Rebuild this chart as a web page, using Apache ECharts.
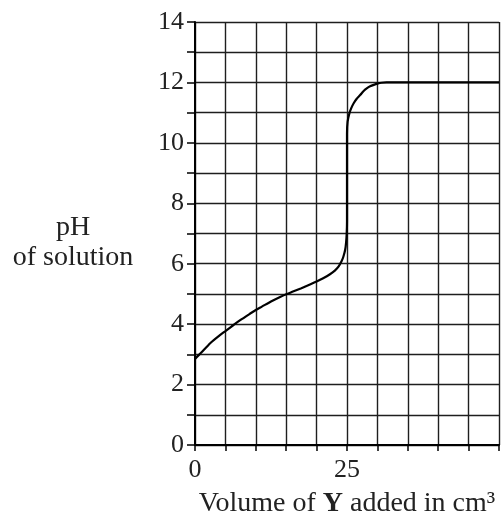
<!DOCTYPE html>
<html>
<head>
<meta charset="utf-8">
<script src="https://cdn.jsdelivr.net/npm/echarts@6/dist/echarts.min.js"></script>
<style>
  html, body { margin: 0; padding: 0; background: #fff; }
  #chart { width: 501px; height: 512px; }
</style>
</head>
<body>
<div id="chart"></div>
<script>
// Titration curve: pH of the solution against volume of Y added (cm³)
const volumeAdded = [0, 1, 2.5, 4, 5, 6, 7.5, 9, 10, 11, 12.5, 14, 15, 16, 17.5, 19, 20, 21, 22.2, 23, 23.6, 24.1, 24.4, 24.7, 24.85, 24.95, 25, 25, 25.1, 25.4, 25.7, 26.1, 26.6, 27.2, 27.7, 28.3, 28.8, 29.4, 30, 30.7, 31.5, 50];
const phValues    = [2.85, 3.05, 3.37, 3.62, 3.77, 3.92, 4.14, 4.34, 4.47, 4.58, 4.75, 4.90, 4.99, 5.07, 5.19, 5.32, 5.41, 5.51, 5.65, 5.77, 5.90, 6.08, 6.23, 6.46, 6.7, 7.0, 7.4, 10.3, 10.7, 10.98, 11.15, 11.31, 11.46, 11.59, 11.71, 11.81, 11.87, 11.92, 11.96, 11.99, 12.0, 12.0];

const xLabelTicks = [0, 25];
const yLabelTicks = [0, 2, 4, 6, 8, 10, 12, 14];

const curve = volumeAdded.map((v, i) => [v, phValues[i]]);

const serif = '"Liberation Serif", "DejaVu Serif", serif';
const gridLine = { show: true, lineStyle: { color: '#1e1e1e', width: 1.4 } };

const chart = echarts.init(document.getElementById('chart'), null, { renderer: 'canvas' });
chart.setOption({
  animation: false,
  backgroundColor: '#fff',
  grid: { left: 195, top: 22, right: 2, bottom: 67, containLabel: false, outerBoundsMode: 'none' },
  xAxis: {
    type: 'value',
    min: 0, max: 50, interval: 5,
    axisLine: { show: true, onZero: false, lineStyle: { color: '#000', width: 2 } },
    axisTick: { show: true, length: 6, lineStyle: { color: '#000', width: 1.5 } },
    splitLine: gridLine,
    axisLabel: {
      margin: 12,
      color: '#222',
      fontFamily: serif,
      fontSize: 26,
      formatter: v => (xLabelTicks.includes(v) ? String(v) : '')
    },
    name: '{n|Volume of }{b|Y}{n| added in cm³}',
    nameLocation: 'middle',
    nameGap: 45,
    nameMoveOverlap: false,
    nameTextStyle: {
      rich: {
        n: { fontFamily: serif, fontSize: 28, color: '#222' },
        b: { fontFamily: serif, fontSize: 28, fontWeight: 'bold', color: '#222' }
      }
    }
  },
  yAxis: {
    type: 'value',
    min: 0, max: 14, interval: 1,
    axisLine: { show: true, onZero: false, lineStyle: { color: '#000', width: 2 } },
    axisTick: { show: true, length: 8, lineStyle: { color: '#000', width: 1.5 } },
    splitLine: gridLine,
    axisLabel: {
      margin: 11,
      color: '#222',
      fontFamily: serif,
      fontSize: 26,
      formatter: v => (yLabelTicks.includes(v) ? String(v) : '')
    }
  },
  graphic: [{
    type: 'text',
    x: 73,
    y: 243,
    style: {
      text: 'pH\nof solution',
      align: 'center',
      verticalAlign: 'middle',
      lineHeight: 30,
      fontFamily: serif,
      fontSize: 28,
      fill: '#222'
    }
  }],
  series: [{
    type: 'line',
    data: curve,
    smooth: 0.2,
    showSymbol: false,
    clip: true,
    lineStyle: { color: '#000', width: 2.2 }
  }]
});
</script>
</body>
</html>
